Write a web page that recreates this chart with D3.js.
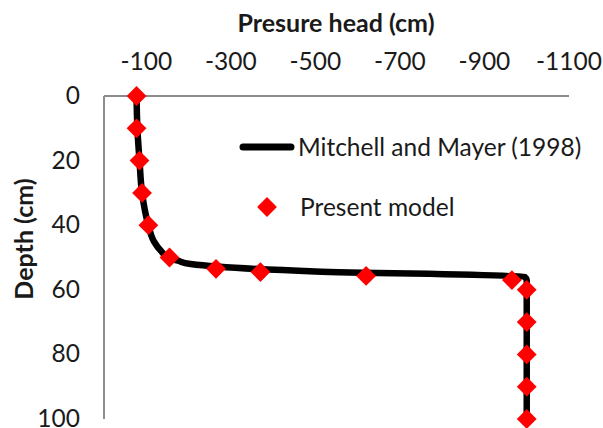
<!DOCTYPE html>
<html>
<head>
<meta charset="utf-8">
<script src="https://cdn.jsdelivr.net/npm/d3@7"></script>
<style>
  body { margin: 0; background: #fff; }
  text { font-family: Lato, "Open Sans", sans-serif; fill: #1a1a1a; }
</style>
</head>
<body>
<svg id="chart"></svg>
<script>
// Mitchell and Mayer (1998) profile
const refDepth = [0, 10, 20, 30, 40, 45, 48, 50, 51, 52, 54.3, 56, 57, 60, 70, 80, 90, 100];
const refHead  = [-77, -79, -84, -90, -105, -118, -135, -152, -175, -205, -500, -995, -1000, -1000, -1000, -1000, -1000, -1000];

// Present model
const modelDepth = [0, 10, 20, 30, 40, 50, 53.5, 54.5, 55.7, 57, 60, 70, 80, 90, 100];
const modelHead  = [-77, -77, -84, -90, -105, -155, -265, -370, -620, -965, -1000, -1000, -1000, -1000, -1000];

const xTicks = [-100, -300, -500, -700, -900, -1100];
const yTicks = [0, 20, 40, 60, 80, 100];

const width = 603, height = 428;
const svg = d3.select("#chart").attr("width", width).attr("height", height);

const x = d3.scaleLinear().domain([0, -1100]).range([104, 569]);
const y = d3.scaleLinear().domain([0, 100]).range([96, 419]);

// axes (lines only, no tick marks)
const axisColor = "#8c8c8c";
svg.append("line")
  .attr("x1", x(0)).attr("x2", x(-1100))
  .attr("y1", y(0)).attr("y2", y(0))
  .attr("stroke", axisColor).attr("stroke-width", 2);
svg.append("line")
  .attr("x1", x(0)).attr("x2", x(0))
  .attr("y1", y(0)).attr("y2", y(100))
  .attr("stroke", axisColor).attr("stroke-width", 2);

svg.selectAll("text.xtick")
  .data(xTicks)
  .enter().append("text")
    .attr("class", "xtick")
    .attr("x", d => x(d))
    .attr("y", 70)
    .attr("text-anchor", "middle")
    .attr("font-size", 24.5)
    .text(d => d);

svg.selectAll("text.ytick")
  .data(yTicks)
  .enter().append("text")
    .attr("class", "ytick")
    .attr("x", 80)
    .attr("y", d => y(d) + 8)
    .attr("text-anchor", "end")
    .attr("font-size", 24.5)
    .text(d => d);

// titles
svg.append("text")
  .attr("x", 336).attr("y", 32)
  .attr("text-anchor", "middle")
  .attr("font-size", 25).attr("font-weight", "bold")
  .text("Presure head (cm)");

svg.append("text")
  .attr("transform", "translate(33,239) rotate(-90)")
  .attr("text-anchor", "middle")
  .attr("font-size", 25).attr("font-weight", "bold")
  .text("Depth (cm)");

// reference line
const refData = refDepth.map((d, i) => ({ depth: d, head: refHead[i] }));
const line = d3.line()
  .x(d => x(d.head))
  .y(d => y(d.depth))
  .curve(d3.curveMonotoneY);

svg.append("path")
  .datum(refData)
  .attr("d", line)
  .attr("fill", "none")
  .attr("stroke", "#000")
  .attr("stroke-width", 6.5)
  .attr("stroke-linejoin", "round")
  .attr("stroke-linecap", "round");

// model diamonds
const diamond = d3.symbol().type(d3.symbolSquare).size(196);
svg.selectAll("path.pt")
  .data(modelDepth.map((d, i) => ({ depth: d, head: modelHead[i] })))
  .enter().append("path")
    .attr("class", "pt")
    .attr("d", diamond)
    .attr("transform", d => `translate(${x(d.head)},${y(d.depth)}) rotate(45)`)
    .attr("fill", "#ff0000");

// legend
const lg = svg.append("g");
lg.append("line")
  .attr("x1", 243).attr("x2", 291)
  .attr("y1", 147).attr("y2", 147)
  .attr("stroke", "#000").attr("stroke-width", 7)
  .attr("stroke-linecap", "round");
lg.append("text")
  .attr("x", 298).attr("y", 156)
  .attr("font-size", 24.5)
  .text("Mitchell and Mayer (1998)");
lg.append("path")
  .attr("d", diamond)
  .attr("transform", "translate(267,207) rotate(45)")
  .attr("fill", "#ff0000");
lg.append("text")
  .attr("x", 300).attr("y", 216)
  .attr("font-size", 24.5)
  .text("Present model");
</script>
</body>
</html>
